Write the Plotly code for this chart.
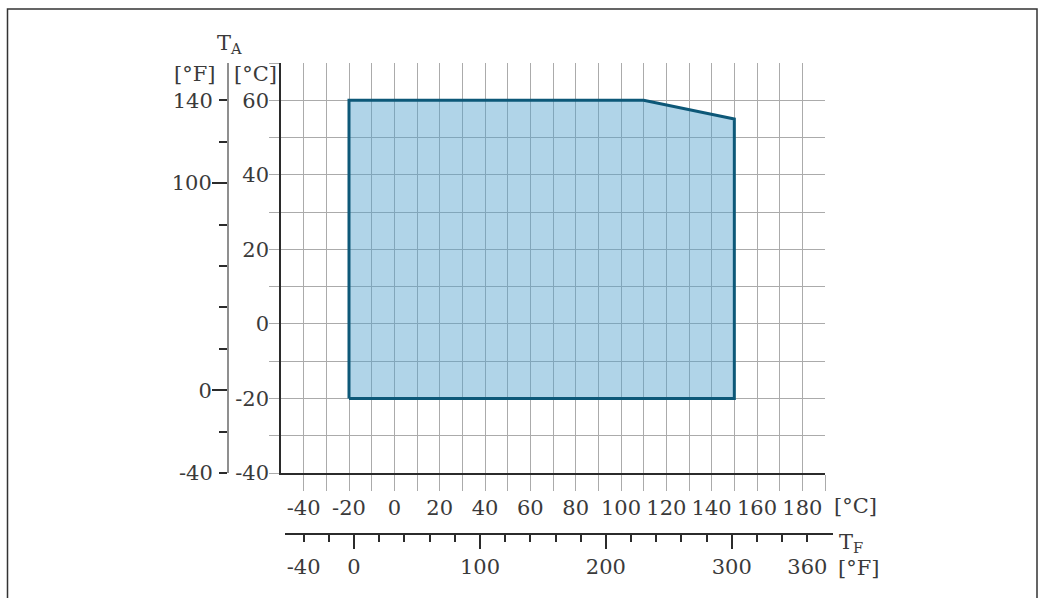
import plotly.graph_objects as go

# ---------------- data ----------------
# operating region: fluid temperature T_F (°C) vs ambient temperature T_A (°C)
region_tf_c = [-20, -20, 110, 150, 150, -20]
region_ta_c = [-20, 60, 60, 55, -20, -20]

# main (°C) axes
x_c_range = [-50, 190]
y_c_range = [-40, 70]
x_c_labels = [-40, -20, 0, 20, 40, 60, 80, 100, 120, 140, 160, 180]
x_c_minor = [-30, -10, 10, 30, 50, 70, 90, 110, 130, 150, 170, 190]
y_c_labels = [-40, -20, 0, 20, 40, 60]
y_c_minor = [-30, -10, 10, 30, 50, 70]

# secondary (°F) axes
y_f_major = [100, 0]
y_f_minor = [140, 120, 80, 60, 40, 20, -20, -40]
y_f_end_labels = [140, -40]
x_f_major = [0, 100, 200, 300]
x_f_minor = [-40, -20, 20, 40, 60, 80, 120, 140, 160, 180, 220, 240, 260, 280, 320, 340, 360]
x_f_end_labels = [-40, 360]


def c_to_f(c):
    return c * 1.8 + 32


W, H = 1044, 610          # figure size; the photograph maps it onto 1044x598
SCREEN_H = 598
FONT = "DejaVu Serif"
TXT = "#3a3a3a"
GRID = "#ababab"
DARK = "#2b2b2b"
FS = 21

# pixel layout (screen coordinates)
px_x0, px_x1 = 281, 825
px_y_top, px_y_bot = 63, 473
px_f_axis_x = 228
px_fx_axis_y = 534
px_fx0, px_fx1 = 285, 833


def px(x):
    return x / W


def py(y):
    return 1 - y / SCREEN_H


# °C value at the ends of the lower °F axis
c_per_px = (x_c_range[1] - x_c_range[0]) / (px_x1 - px_x0)
fx_c0 = x_c_range[0] + (px_fx0 - px_x0) * c_per_px
fx_c1 = x_c_range[0] + (px_fx1 - px_x0) * c_per_px
x_f_range = [c_to_f(fx_c0), c_to_f(fx_c1)]
y_f_range = [c_to_f(y_c_range[0]), c_to_f(y_c_range[1])]

fig = go.Figure()

fig.add_trace(go.Scatter(
    x=region_tf_c, y=region_ta_c,
    mode="lines", fill="toself",
    fillcolor="rgba(80,160,205,0.45)",
    line=dict(color="#0d5878", width=3),
    hoverinfo="skip", showlegend=False,
))

# invisible anchor traces so that the secondary axes are drawn
inv = dict(mode="markers", marker=dict(opacity=0, size=1), hoverinfo="skip", showlegend=False)
fig.add_trace(go.Scatter(x=[x_c_range[0]], y=[y_f_range[0]], xaxis="x", yaxis="y2", **inv))
fig.add_trace(go.Scatter(x=[x_c_range[0]], y=[y_f_range[0]], xaxis="x", yaxis="y3", **inv))
fig.add_trace(go.Scatter(x=[x_f_range[0]], y=[y_c_range[0]], xaxis="x2", yaxis="y4", **inv))
fig.add_trace(go.Scatter(x=[x_f_range[0]], y=[y_c_range[0]], xaxis="x3", yaxis="y4", **inv))

tickfont = dict(family=FONT, size=FS, color=TXT)

fig.update_layout(
    width=W, height=H, autosize=False,
    margin=dict(l=0, r=0, t=0, b=0),
    paper_bgcolor="white", plot_bgcolor="rgba(0,0,0,0)",
    showlegend=False,
    font=dict(family=FONT, size=FS, color=TXT),
    xaxis=dict(
        domain=[px(px_x0), px(px_x1)], range=x_c_range,
        tickmode="array", tickvals=x_c_labels, ticktext=[str(v) for v in x_c_labels],
        ticks="outside", ticklen=16, tickcolor=GRID, tickwidth=1,
        showgrid=True, gridcolor=GRID, gridwidth=1,
        minor=dict(tickmode="array", tickvals=x_c_minor, ticks="outside", ticklen=16,
                   tickcolor=GRID, tickwidth=1, showgrid=True, gridcolor=GRID, gridwidth=1),
        showline=True, linecolor=DARK, linewidth=1.5,
        zeroline=False, tickfont=tickfont, ticklabelstandoff=-1,
        anchor="y",
    ),
    yaxis=dict(
        domain=[py(px_y_bot), py(px_y_top)], range=y_c_range,
        tickmode="array", tickvals=y_c_labels, ticktext=[str(v) for v in y_c_labels],
        ticks="outside", ticklen=10, tickcolor=GRID, tickwidth=1,
        showgrid=True, gridcolor=GRID, gridwidth=1,
        minor=dict(tickmode="array", tickvals=y_c_minor, ticks="outside", ticklen=10,
                   tickcolor=GRID, tickwidth=1, showgrid=True, gridcolor=GRID, gridwidth=1),
        showline=True, linecolor=DARK, linewidth=1.5,
        zeroline=False, tickfont=tickfont, ticklabelstandoff=-4,
        anchor="x",
    ),
    # left °F axis
    yaxis2=dict(
        overlaying="y", anchor="free", position=px(px_f_axis_x), side="left",
        range=y_f_range, showgrid=False, zeroline=False,
        showline=True, linecolor="#8f8f8f", linewidth=2,
        tickmode="array", tickvals=y_f_major, ticktext=[str(v) for v in y_f_major],
        ticks="outside", ticklen=15, tickcolor=DARK, tickwidth=2,
        minor=dict(tickmode="array", tickvals=y_f_minor, ticks="outside", ticklen=8,
                   tickcolor=DARK, tickwidth=2, showgrid=False),
        tickfont=tickfont, ticklabelstandoff=-4,
    ),
    yaxis3=dict(
        overlaying="y", anchor="free", position=px(px_f_axis_x), side="left",
        range=y_f_range, showgrid=False, zeroline=False, showline=False,
        tickmode="array", tickvals=y_f_end_labels, ticktext=[str(v) for v in y_f_end_labels],
        ticks="outside", ticklen=15, tickcolor="rgba(0,0,0,0)",
        tickfont=tickfont, ticklabelstandoff=-4,
    ),
    # hidden helper axis for the lower °F scale
    yaxis4=dict(
        domain=[py(px_y_bot), py(px_y_top)], range=y_c_range, visible=False,
        showgrid=False, zeroline=False, anchor="x2",
    ),
    # bottom °F axis
    xaxis2=dict(
        domain=[px(px_fx0), px(px_fx1)], anchor="free", position=py(px_fx_axis_y), side="bottom",
        range=x_f_range, showgrid=False, zeroline=False,
        showline=True, linecolor=DARK, linewidth=1.5,
        tickmode="array", tickvals=x_f_major, ticktext=[str(v) for v in x_f_major],
        ticks="outside", ticklen=14, tickcolor=DARK, tickwidth=1.5,
        minor=dict(tickmode="array", tickvals=x_f_minor, ticks="outside", ticklen=7,
                   tickcolor=DARK, tickwidth=1.5, showgrid=False),
        tickfont=tickfont, ticklabelstandoff=0,
    ),
    xaxis3=dict(
        overlaying="x2", anchor="free", position=py(px_fx_axis_y), side="bottom",
        range=x_f_range, showgrid=False, zeroline=False, showline=False,
        tickmode="array", tickvals=x_f_end_labels, ticktext=[str(v) for v in x_f_end_labels],
        ticks="outside", ticklen=14, tickcolor="rgba(0,0,0,0)",
        tickfont=tickfont, ticklabelstandoff=0,
    ),
)

# outer frame (open at the bottom edge of the picture)
fig.add_shape(type="path", xref="paper", yref="paper",
              path=f"M {px(7.5)},0 L {px(7.5)},{py(9)} L {px(1037)},{py(9)} L {px(1037)},0",
              line=dict(color="#333333", width=1.5), layer="below")


def ann(text, x, y, xanchor="center"):
    fig.add_annotation(text=text, xref="paper", yref="paper", x=px(x), y=py(y),
                       xanchor=xanchor, yanchor="middle", showarrow=False,
                       font=dict(family=FONT, size=FS, color=TXT))


ann("T<sub>A</sub>", 229, 44)
ann("[°F]", 194, 74)
ann("[°C]", 255, 74)
ann("[°C]", 855, 506)
ann("T<sub>F</sub>", 851, 543)
ann("[°F]", 858, 568)

fig.write_html(
    "out.html",
    config={"displayModeBar": False, "responsive": False},
    post_script="document.body.style.margin='0';document.body.style.overflow='hidden';",
)
